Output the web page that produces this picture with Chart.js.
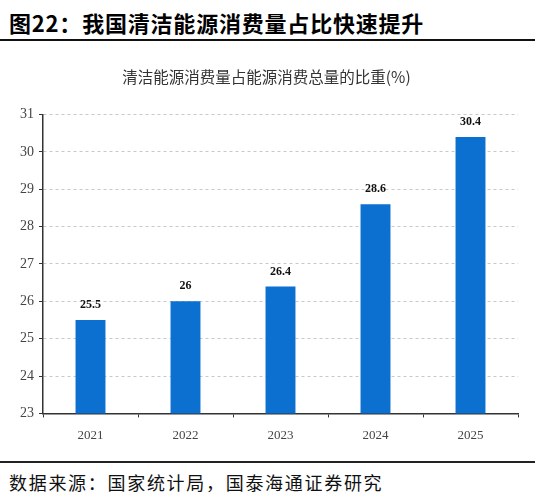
<!DOCTYPE html>
<html>
<head>
<meta charset="utf-8">
<script src="https://cdn.jsdelivr.net/npm/chart.js@4"></script>
<style>
  html,body{margin:0;padding:0;background:#fff;}
  #wrap{position:relative;width:535px;height:500px;overflow:hidden;}
  #head{position:absolute;left:9px;top:7px;font-family:"Noto Sans CJK SC";font-weight:bold;font-size:22px;letter-spacing:0.8px;line-height:30px;color:#000;white-space:nowrap;}
  #hline{position:absolute;left:0;top:39px;width:535px;height:2px;background:#111;}
  #fline{position:absolute;left:0;top:461px;width:535px;height:2px;background:#222;}
  #foot{position:absolute;left:9px;top:470px;font-family:"Noto Sans CJK SC";font-size:18px;letter-spacing:1.7px;line-height:24px;color:#111;white-space:nowrap;}
  #cv{position:absolute;left:0;top:42px;}
</style>
</head>
<body>
<div id="wrap">
  <div id="head">图22：我国清洁能源消费量占比快速提升</div>
  <div id="hline"></div>
  <canvas id="cv" width="535" height="418"></canvas>
  <div id="fline"></div>
  <div id="foot">数据来源：国家统计局，国泰海通证券研究</div>
</div>
<script>
const categories = ["2021", "2022", "2023", "2024", "2025"];
const shareValues = [25.5, 26, 26.4, 28.6, 30.4];
const yTicks = [23, 24, 25, 26, 27, 28, 29, 30, 31];
const chartTitle = "清洁能源消费量占能源消费总量的比重(%)";

const labelPlugin = {
  id: 'valueLabels',
  afterDatasetsDraw(chart) {
    const ctx = chart.ctx;
    const meta = chart.getDatasetMeta(0);
    ctx.save();
    ctx.font = 'bold 12px "Liberation Serif"';
    ctx.fillStyle = '#111';
    ctx.textAlign = 'center';
    ctx.textBaseline = 'bottom';
    meta.data.forEach((bar, i) => {
      ctx.fillText(String(shareValues[i]), bar.x, bar.y - 9);
    });
    ctx.restore();
  }
};

new Chart(document.getElementById('cv'), {
  type: 'bar',
  data: {
    labels: categories,
    datasets: [{
      data: shareValues,
      backgroundColor: '#0B70CF',
      borderWidth: 0,
      barPercentage: 0.63,
      categoryPercentage: 0.5
    }]
  },
  options: {
    responsive: false,
    animation: false,
    devicePixelRatio: 1,
    layout: { padding: { left: 15, right: 17, top: 0, bottom: 7 } },
    plugins: {
      legend: { display: false },
      tooltip: { enabled: false },
      title: {
        display: true,
        text: chartTitle,
        color: '#333',
        font: { family: '"Noto Sans CJK SC"', size: 15.5, weight: 'normal' },
        padding: { top: 26, bottom: 28 }
      }
    },
    scales: {
      x: {
        offset: true,
        grid: { display: true, drawOnChartArea: false, offset: true, tickLength: 4, color: '#333', lineWidth: 1 },
        border: { display: true, color: '#333', width: 1.5 },
        ticks: { color: '#444', font: { family: '"Liberation Serif"', size: 13 }, padding: 10 }
      },
      y: {
        min: 23,
        max: 31,
        afterBuildTicks(scale) { scale.ticks = yTicks.map(v => ({ value: v })); },
        grid: { color: '#c8c8c8', lineWidth: 1, tickLength: 4, tickColor: '#333' },
        border: { display: true, color: '#333', width: 1.5, dash: [3, 3] },
        ticks: { color: '#444', font: { family: '"Liberation Serif"', size: 14 }, padding: 5 }
      }
    }
  },
  plugins: [labelPlugin]
});
</script>
</body>
</html>
